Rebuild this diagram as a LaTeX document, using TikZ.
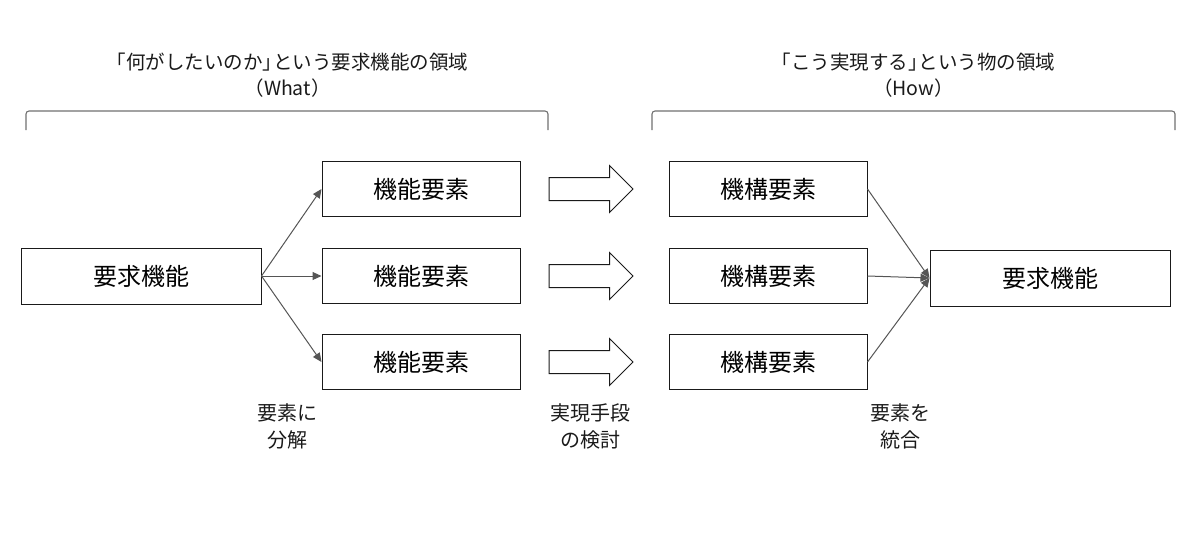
\documentclass[tikz,border=0pt]{standalone}
\usepackage{fontspec}
\setmainfont{Noto Sans CJK JP}
\usetikzlibrary{arrows.meta,positioning,shapes.arrows}
\definecolor{dgInk}{HTML}{1A1A1A}
\definecolor{dgGrey}{HTML}{555555}
\definecolor{dgBrack}{HTML}{707070}
\newcommand\tightclose{」\kern-.45em}
\tikzset{
  box/.style      ={draw=dgInk,line width=1pt,fill=white,minimum width=198pt,
                    minimum height=55pt,inner sep=0pt,font=\fontsize{24}{28}\selectfont},
  reqbox/.style   ={box,minimum width=240pt,minimum height=56pt},
  link/.style     ={-{Triangle[length=9pt,width=8pt]},dgGrey,line width=1pt},
  brack/.style    ={dgBrack,line width=1.1pt,rounded corners=3pt},
  bigarrow/.style ={single arrow,draw=dgInk,line width=1pt,minimum height=84pt,
                    inner xsep=0pt,inner ysep=11pt,single arrow head extend=12pt},
  ttl/.style      ={font=\fontsize{19.5}{26}\selectfont,align=center,text=dgInk},
  lbl/.style      ={font=\fontsize{20}{27}\selectfont,align=center,text=dgInk},
}
\begin{document}
\begin{tikzpicture}[x=1pt,y=-1pt]
\useasboundingbox (0,0) rectangle (1200,544);

%% what side
\node[ttl] (whatttl) at (287.5,75) {「何がしたいのか\tightclose という要求機能の領域\\（What）};
\draw[brack] (26,130) |- (548,111) -- (548,130);
\node[box] (func2) at (421,276) {機能要素};
\node[box,above=31pt of func2] (func1) {機能要素};
\node[box,below=30pt of func2] (func3) {機能要素};
\node[reqbox,left=60pt of func2] (req) {要求機能};
\draw[link] (req.east) -- (func1.west);
\draw[link] (req.east) -- (func2.west);
\draw[link] (req.east) -- (func3.west);
\node[lbl] (split) at (287,426) {要素に\\分解};

%% block arrows between the two sides
\node[bigarrow,right=28pt of func1] (go1) {};
\node[bigarrow,right=28pt of func2] (go2) {};
\node[bigarrow,right=28pt of func3] (go3) {};
\node[lbl] (means) at (590,426) {実現手段\\の検討};

%% how side
\node[ttl] (howttl) at (913.5,75) {「こう実現する\tightclose という物の領域\\（How）};
\draw[brack] (652,130) |- (1175,111) -- (1175,130);
\node[box,right=148pt of func1] (mech1) {機構要素};
\node[box,right=148pt of func2] (mech2) {機構要素};
\node[box,right=148pt of func3] (mech3) {機構要素};
\node[reqbox] (goal) at (1050,278) {要求機能};
\draw[link] (mech1.east) -- (goal.west);
\draw[link] (mech2.east) -- (goal.west);
\draw[link] (mech3.east) -- (goal.west);
\node[lbl] (merge) at (900,426) {要素を\\統合};
\end{tikzpicture}
\end{document}
